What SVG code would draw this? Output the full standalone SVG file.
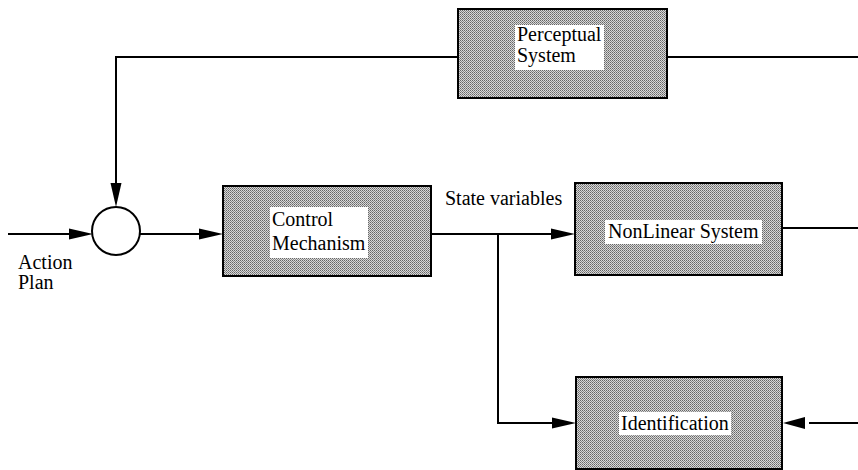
<svg xmlns="http://www.w3.org/2000/svg" width="858" height="470" viewBox="0 0 858 470">
<style>
.box{fill:url(#stip);stroke:#000;stroke-width:2}
.lab{fill:#fff;stroke:none}
.t{font-family:"Liberation Serif","Times New Roman",serif;font-size:20px;fill:#000}
.ln{fill:none;stroke:#000;stroke-width:2}
.ah{fill:#000}
</style>
<defs>
<pattern id="stip" width="2" height="2" patternUnits="userSpaceOnUse">
<rect width="2" height="2" fill="#d8d8d8"/>
<rect x="0" y="0" width="1" height="1" fill="#666"/>
<rect x="1" y="1" width="1" height="1" fill="#888"/>
</pattern>
</defs>
<rect width="858" height="470" fill="#fff"/>
<g id="connectors">
<path class="ln" d="M858 57 H667"/>
<path class="ln" d="M458 57 H116 V184"/>
<polygon class="ah" points="116,207 110.5,183 121.5,183"/>
<path class="ln" d="M8 234 H70"/>
<polygon class="ah" points="93,234 69,228.5 69,239.5"/>
<path class="ln" d="M140 234 H200"/>
<polygon class="ah" points="223,234 199,228.5 199,239.5"/>
<path class="ln" d="M431 234 H552"/>
<polygon class="ah" points="575,234 551,228.5 551,239.5"/>
<path class="ln" d="M498 234 V423 H553"/>
<polygon class="ah" points="576,423 552,417.5 552,428.5"/>
<path class="ln" d="M782 228 H858"/>
<path class="ln" d="M809 423 H858"/>
<polygon class="ah" points="783,423 805,417 805,429"/>
</g>
<g id="sum">
<circle cx="116" cy="231" r="24" fill="#fff" stroke="#000" stroke-width="2"/>
</g>
<g id="perceptual">
<rect class="box" x="458" y="9" width="209" height="89"/>
<rect class="lab" x="515" y="25" width="89" height="45"/>
<text class="t" x="517" y="41">Perceptual</text>
<text class="t" x="517" y="62">System</text>
</g>
<g id="control">
<rect class="box" x="223" y="186" width="208" height="90"/>
<rect class="lab" x="270" y="207" width="98" height="51"/>
<text class="t" x="272" y="226">Control</text>
<text class="t" x="272" y="250">Mechanism</text>
</g>
<g id="nonlinear">
<rect class="box" x="575" y="183" width="207" height="92"/>
<rect class="lab" x="605" y="220" width="157" height="24"/>
<text class="t" x="608" y="238">NonLinear System</text>
</g>
<g id="identification">
<rect class="box" x="576" y="377" width="206" height="92"/>
<rect class="lab" x="619" y="412" width="112" height="23"/>
<text class="t" x="621" y="430">Identification</text>
</g>
<g id="labels">
<text class="t" x="445" y="205">State variables</text>
<text class="t" x="18" y="269">Action</text>
<text class="t" x="18" y="289">Plan</text>
</g>
</svg>
